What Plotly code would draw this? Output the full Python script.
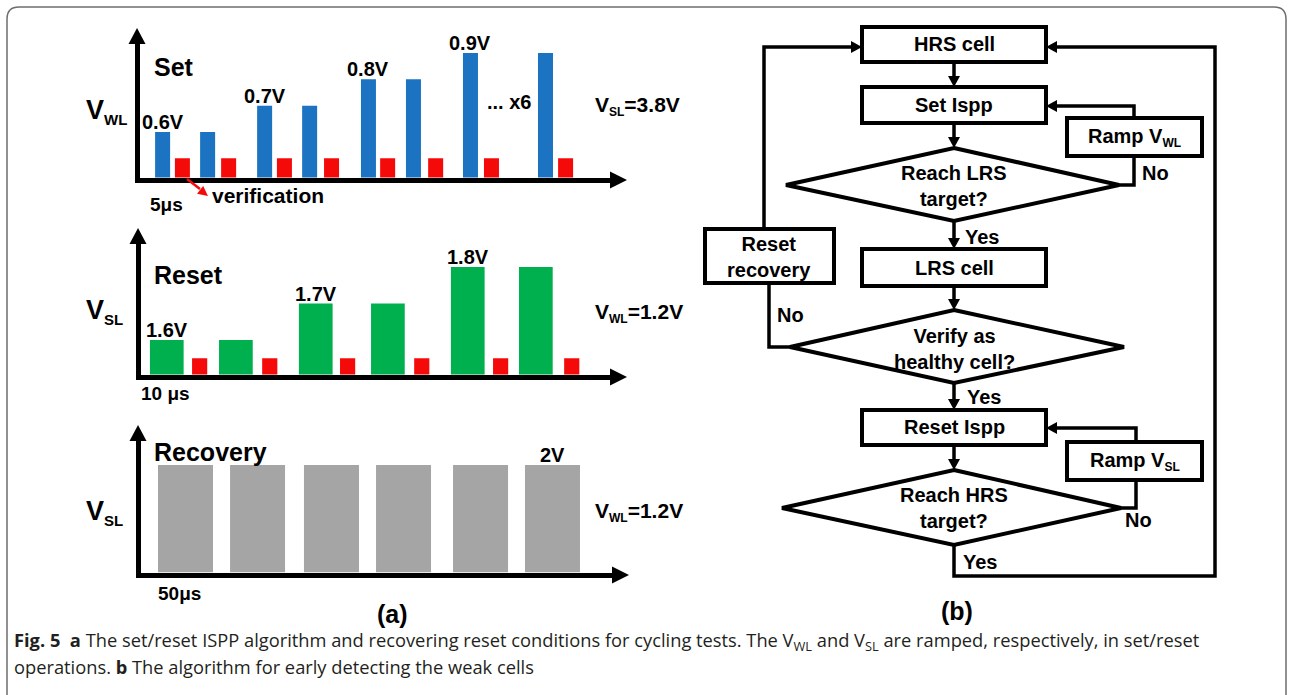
import plotly.graph_objects as go

W, H = 1293, 695
def PX(x): return x / W
def PY(y): return 1 - y / H

# ---------------- data ----------------
# (a) Set ISPP: WL pulses (blue) followed by verification reads (red)
set_pulse_start_us = [5.2, 20.2, 39.2, 54.2, 73.8, 88.8, 107.8, 132.8]
set_pulse_v = [0.6, 0.6, 0.7, 0.7, 0.8, 0.8, 0.9, 0.9]
set_verify_start_us = [11.8, 27.2, 45.8, 61.5, 80.2, 96.2, 114.8, 139.5]
set_verify_v = [0.5, 0.5, 0.5, 0.5, 0.5, 0.5, 0.5, 0.5]
set_labels = ["0.6V", "", "0.7V", "", "0.8V", "", "0.9V", ""]
set_pulse_width_us = 5
set_verify_width_us = 5

# (a) Reset ISPP: SL pulses (green) followed by verification reads (red)
reset_pulse_start_us = [2.8, 23.3, 47.0, 68.4, 92.1, 112.3]
reset_pulse_v = [1.6, 1.6, 1.7, 1.7, 1.8, 1.8]
reset_verify_start_us = [15.3, 36.1, 59.2, 81.2, 104.6, 125.7]
reset_verify_v = [1.55, 1.55, 1.55, 1.55, 1.55, 1.55]
reset_labels = ["1.6V", "", "1.7V", "", "1.8V", ""]
reset_pulse_width_us = 10
reset_verify_width_us = 4.5

# (a) Recovery reset pulses (gray)
recovery_pulse_start_us = [15.9, 81.4, 148.6, 214.1, 284.1, 349.5]
recovery_pulse_v = [2.0, 2.0, 2.0, 2.0, 2.0, 2.0]
recovery_labels = ["", "", "", "", "", "2V"]
recovery_pulse_width_us = 50

panel_titles = ["Set", "Reset", "Recovery"]
panel_yvars = [("V", "WL"), ("V", "SL"), ("V", "SL")]
panel_bias = [("V", "SL", "=3.8V"), ("V", "WL", "=1.2V"), ("V", "WL", "=1.2V")]
panel_width_text = ["5μs", "10 μs", "50μs"]

BLUE = "#1b73c2"
RED = "#f50a0a"
GREEN = "#00b04f"
GRAY = "#a5a5a5"
FONT = "Liberation Sans, Arial, sans-serif"

fig = go.Figure()

# panel geometry (pixels): x-domain, y-domain (bottom, top), axis ranges
panels = [
    dict(xd=(139.5, 610), yd=(177.5, 44), xr=[0, 156.8], yr=[0.4272, 0.9342]),
    dict(xd=(140.5, 610), yd=(374.5, 244), xr=[0, 139.3], yr=[1.5055, 1.863]),
    dict(xd=(140.5, 612), yd=(572.5, 441), xr=[0, 428.6], yr=[0, 2.447]),
]

series = [
    [(set_pulse_start_us, set_pulse_v, set_pulse_width_us, BLUE, set_labels),
     (set_verify_start_us, set_verify_v, set_verify_width_us, RED, None)],
    [(reset_pulse_start_us, reset_pulse_v, reset_pulse_width_us, GREEN, reset_labels),
     (reset_verify_start_us, reset_verify_v, reset_verify_width_us, RED, None)],
    [(recovery_pulse_start_us, recovery_pulse_v, recovery_pulse_width_us, GRAY, recovery_labels)],
]

annotations = []
shapes = []

def tri(points, color="black"):
    p = "M " + " L ".join(f"{PX(x)},{PY(y)}" for x, y in points) + " Z"
    shapes.append(dict(type="path", path=p, xref="paper", yref="paper",
                       fillcolor=color, line=dict(width=0), layer="above"))

def polyline(points, width=3.5, color="black"):
    p = "M " + " L ".join(f"{PX(x)},{PY(y)}" for x, y in points)
    shapes.append(dict(type="path", path=p, xref="paper", yref="paper",
                       line=dict(color=color, width=width), layer="above"))

def arrowhead(tip, direction, length=11, half=6, color="black"):
    dx, dy = direction
    n = (dx * dx + dy * dy) ** 0.5
    ux, uy = dx / n, dy / n
    bx, by = tip[0] - ux * length, tip[1] - uy * length
    tri([(bx - uy * half, by + ux * half), tip, (bx + uy * half, by - ux * half)], color)

def text(x, y, s, size=20, xanchor="center", yanchor="middle", color="black", family=FONT):
    annotations.append(dict(x=PX(x), y=PY(y), xref="paper", yref="paper", text=s,
                            showarrow=False, xanchor=xanchor, yanchor=yanchor,
                            font=dict(size=size, color=color, family=family)))

def sub(main, s, size_main, size_sub, rest=""):
    return (f"<b>{main}<sub><span style='font-size:{size_sub}px'>{s}</span></sub>{rest}</b>")

for i, (p, ser) in enumerate(zip(panels, series)):
    k = "" if i == 0 else str(i + 1)
    xa, ya = "xaxis" + k, "yaxis" + k
    fig.layout[xa] = dict(domain=[PX(p["xd"][0]), PX(p["xd"][1])], range=p["xr"],
                          anchor="y" + k, showline=True, linewidth=5, linecolor="black",
                          showgrid=False, zeroline=False, showticklabels=False, ticks="",
                          fixedrange=True)
    fig.layout[ya] = dict(domain=[PY(p["yd"][0]), PY(p["yd"][1])], range=p["yr"],
                          anchor="x" + k, showline=True, linewidth=5, linecolor="black",
                          showgrid=False, zeroline=False, showticklabels=False, ticks="",
                          fixedrange=True)
    for (xs, vs, wd, col, labels) in ser:
        fig.add_trace(go.Bar(x=xs, y=vs, width=[wd] * len(xs), offset=0,
                             marker=dict(color=col, line=dict(width=0)),
                             xaxis="x" + k, yaxis="y" + k, hoverinfo="skip"))
        if labels:
            for xv, vv, lab in zip(xs, vs, labels):
                if lab:
                    annotations.append(dict(x=xv + wd / 2, y=vv, xref="x" + k, yref="y" + k,
                                            text=f"<b>{lab}</b>", showarrow=False,
                                            xanchor="center", yanchor="middle", yshift=10,
                                            font=dict(size=20, color="black", family=FONT)))
    # axis arrow heads
    x0, x1 = p["xd"]
    yb, yt = p["yd"]
    ax_y = yb + 2.5
    ax_x = x0 - 2.5
    tri([(x1, ax_y - 8.5), (x1 + 17, ax_y), (x1, ax_y + 8.5)])
    tri([(ax_x - 8.5, yt), (ax_x, yt - 16), (ax_x + 8.5, yt)])

# panel texts
title_y = [67, 275, 452]
yvar_y = [112, 312, 512]
bias_y = [106, 313, 512]
width_pos = [(148, 205), (139, 393), (156, 593)]
for i in range(3):
    text(152, title_y[i], f"<b>{panel_titles[i]}</b>", size=25, xanchor="left")
    m, s = panel_yvars[i]
    text(84, yvar_y[i], sub(m, s, 27, 15), size=27, xanchor="left")
    m, s, r = panel_bias[i]
    text(593, bias_y[i], sub(m, s, 21, 12, r), size=21, xanchor="left")
    text(width_pos[i][0], width_pos[i][1], f"<b>{panel_width_text[i]}</b>", size=19, xanchor="left")

text(509, 102, "<b>... x6</b>", size=20)
text(210, 196, "<b>verification</b>", size=21, xanchor="left")
# red pointer
polyline([(187, 179), (200, 189)], width=2.5, color=RED)
arrowhead((208, 196), (18, 14), length=10, half=5, color=RED)

text(392, 614, "<b>(a)</b>", size=25)
text(957, 611, "<b>(b)</b>", size=25)

# ---------------- flowchart (b) ----------------
def box(x0, y0, x1, y1):
    shapes.append(dict(type="rect", x0=PX(x0), x1=PX(x1), y0=PY(y1), y1=PY(y0),
                       xref="paper", yref="paper", line=dict(color="black", width=4),
                       fillcolor="white", layer="above"))

def diamond(cx, cy, left, right, top, bottom):
    p = (f"M {PX(cx)},{PY(top)} L {PX(right)},{PY(cy)} L {PX(cx)},{PY(bottom)} "
         f"L {PX(left)},{PY(cy)} Z")
    shapes.append(dict(type="path", path=p, xref="paper", yref="paper",
                       line=dict(color="black", width=4), fillcolor="white", layer="above"))

CX = 954
box(862, 27, 1046, 62)
box(862, 87, 1046, 123)
diamond(CX, 185, 786, 1119, 148, 221)
box(1067, 118, 1202, 156)
box(862, 249, 1046, 286)
box(705, 229, 834, 283)
diamond(CX, 347, 790, 1124, 310, 383)
box(862, 410, 1046, 445)
box(1067, 442, 1202, 480)
diamond(CX, 508, 782, 1121, 470, 545)

# connectors
polyline([(CX, 62), (CX, 80)]); arrowhead((CX, 87), (0, 1))
polyline([(CX, 123), (CX, 141)]); arrowhead((CX, 148), (0, 1))
polyline([(1119, 185), (1134, 185), (1134, 156)])
polyline([(1134, 118), (1134, 106), (1055, 106)]); arrowhead((1046, 106), (-1, 0))
polyline([(CX, 221), (CX, 242)]); arrowhead((CX, 249), (0, 1))
polyline([(CX, 286), (CX, 303)]); arrowhead((CX, 310), (0, 1))
polyline([(790, 347), (769, 347), (769, 283)])
polyline([(764, 229), (764, 47), (853, 47)]); arrowhead((862, 47), (1, 0))
polyline([(CX, 383), (CX, 403)]); arrowhead((CX, 410), (0, 1))
polyline([(CX, 445), (CX, 463)]); arrowhead((CX, 470), (0, 1))
polyline([(1121, 508), (1136, 508), (1136, 480)])
polyline([(1136, 442), (1136, 428), (1055, 428)]); arrowhead((1046, 428), (-1, 0))
polyline([(CX, 545), (CX, 576), (1215, 576), (1215, 47), (1055, 47)]); arrowhead((1046, 47), (-1, 0))

# flowchart texts
flow_box_text = [
    (CX, 44.5, "HRS cell"), (CX, 105, "Set Ispp"), (CX, 267.5, "LRS cell"),
    (CX, 427.5, "Reset Ispp"), (769.5, 257, "Reset<br>recovery"),
    (CX, 186, "Reach LRS<br>target?"), (CX, 349, "Verify as<br>healthy cell?"),
    (CX, 508, "Reach HRS<br>target?"),
]
for x, y, s in flow_box_text:
    text(x, y, "<b>" + s.replace("<br>", "</b><br><b>") + "</b>", size=20)
text(1134.5, 137, sub("Ramp V", "WL", 20, 12), size=20)
text(1134.5, 461, sub("Ramp V", "SL", 20, 12), size=20)
for x, y, s in [(1140, 173, "No"), (963, 237, "Yes"), (775, 315, "No"),
                (965, 397, "Yes"), (1123, 520, "No"), (961, 562, "Yes")]:
    text(x, y, f"<b>{s}</b>", size=20, xanchor="left")

# ---------------- frame + caption ----------------
r = 12
x0, y0, x1, y1 = 7, 7, 1286, 705
fp = (f"M {PX(x0 + r)},{PY(y0)} L {PX(x1 - r)},{PY(y0)} Q {PX(x1)},{PY(y0)} {PX(x1)},{PY(y0 + r)} "
      f"L {PX(x1)},{PY(y1)} L {PX(x0)},{PY(y1)} L {PX(x0)},{PY(y0 + r)} "
      f"Q {PX(x0)},{PY(y0)} {PX(x0 + r)},{PY(y0)}")
shapes.append(dict(type="path", path=fp, xref="paper", yref="paper",
                   line=dict(color="#6e6e6e", width=1.5), layer="below"))

CAP = "Open Sans, Noto Sans, sans-serif"
cap1 = ("<b>Fig. 5</b>\u00a0\u00a0<b>a</b> The set/reset ISPP algorithm and recovering reset conditions "
        "for cycling tests. The V<sub>WL</sub> and V<sub>SL</sub> are ramped, respectively, in set/reset")
cap2 = "operations. <b>b</b> The algorithm for early detecting the weak cells"
text(12, 641, cap1, size=18.3, xanchor="left", color="#231f20", family=CAP)
text(12, 666, cap2, size=18.3, xanchor="left", color="#231f20", family=CAP)

fig.update_layout(width=W, height=H, margin=dict(l=0, r=0, t=0, b=0),
                  paper_bgcolor="white", plot_bgcolor="white", showlegend=False,
                  barmode="overlay", annotations=annotations, shapes=shapes)
fig.write_html("out.html", config={"displayModeBar": False})
